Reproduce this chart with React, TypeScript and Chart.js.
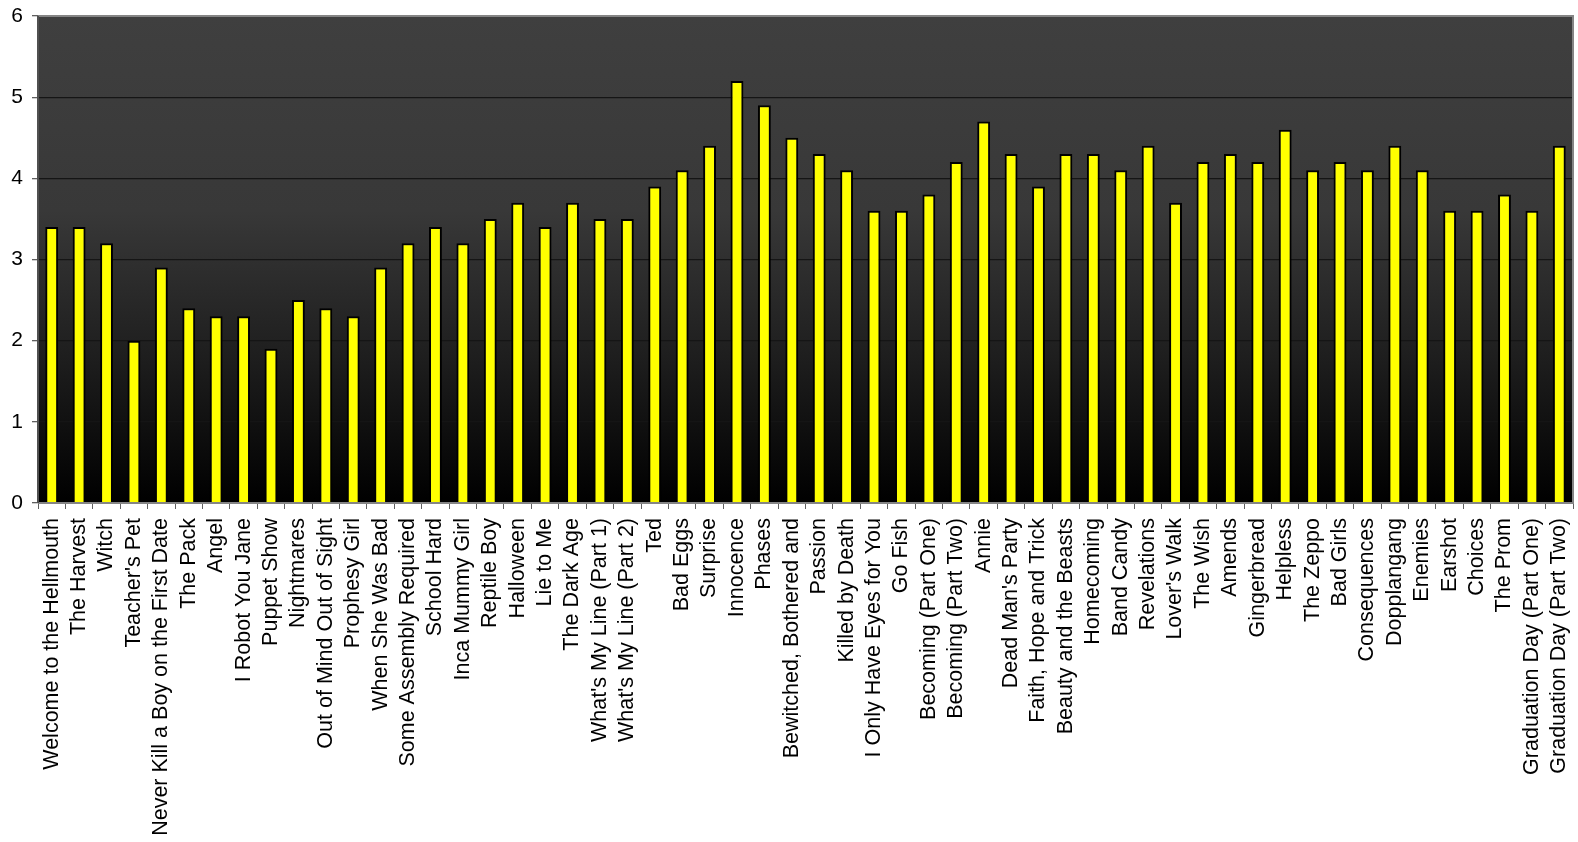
import React, { useEffect, useRef } from "react";
import { Chart, registerables } from "chart.js";

Chart.register(...registerables);

const episodes: string[] = [
  "Welcome to the Hellmouth", "The Harvest", "Witch", "Teacher's Pet",
  "Never Kill a Boy on the First Date", "The Pack", "Angel", "I Robot You Jane",
  "Puppet Show", "Nightmares", "Out of Mind Out of Sight", "Prophesy Girl",
  "When She Was Bad", "Some Assembly Required", "School Hard", "Inca Mummy Girl",
  "Reptile Boy", "Halloween", "Lie to Me", "The Dark Age",
  "What's My Line (Part 1)", "What's My Line (Part 2)", "Ted", "Bad Eggs",
  "Surprise", "Innocence", "Phases", "Bewitched, Bothered and",
  "Passion", "Killed by Death", "I Only Have Eyes for You", "Go Fish",
  "Becoming (Part One)", "Becoming (Part Two)", "Annie", "Dead Man's Party",
  "Faith, Hope and Trick", "Beauty and the Beasts", "Homecoming", "Band Candy",
  "Revelations", "Lover's Walk", "The Wish", "Amends",
  "Gingerbread", "Helpless", "The Zeppo", "Bad Girls",
  "Consequences", "Dopplangang", "Enemies", "Earshot",
  "Choices", "The Prom", "Graduation Day (Part One)", "Graduation Day (Part Two)",
];

const ratings: number[] = [
  3.4, 3.4, 3.2, 2.0, 2.9, 2.4, 2.3, 2.3, 1.9, 2.5, 2.4, 2.3,
  2.9, 3.2, 3.4, 3.2, 3.5, 3.7, 3.4, 3.7, 3.5, 3.5, 3.9, 4.1,
  4.4, 5.2, 4.9, 4.5, 4.3, 4.1, 3.6, 3.6, 3.8, 4.2,
  4.7, 4.3, 3.9, 4.3, 4.3, 4.1, 4.4, 3.7, 4.2, 4.3,
  4.2, 4.6, 4.1, 4.2, 4.1, 4.4, 4.1, 3.6, 3.6, 3.8, 3.6, 4.4,
];

const yTicks: number[] = [0, 1, 2, 3, 4, 5, 6];

const bgPlugin = {
  id: "bgPlugin",
  beforeDraw(chart: any) {
    const { ctx, chartArea: a } = chart;
    const g = ctx.createLinearGradient(0, a.top, 0, a.bottom);
    g.addColorStop(0, "#3f3f3f");
    g.addColorStop(0.4, "#383838");
    g.addColorStop(0.7, "#1e1e1e");
    g.addColorStop(1, "#000000");
    ctx.save();
    ctx.fillStyle = g;
    ctx.fillRect(a.left, a.top, a.right - a.left, a.bottom - a.top);
    ctx.restore();
  },
  afterDraw(chart: any) {
    const { ctx, chartArea: a } = chart;
    ctx.save();
    ctx.lineWidth = 2;
    ctx.strokeStyle = "#858585";
    ctx.beginPath();
    ctx.moveTo(a.left, a.top);
    ctx.lineTo(a.right, a.top);
    ctx.lineTo(a.right, a.bottom);
    ctx.lineTo(a.left, a.bottom);
    ctx.stroke();
    ctx.strokeStyle = "#505050";
    ctx.beginPath();
    ctx.moveTo(a.left, a.top);
    ctx.lineTo(a.left, a.bottom);
    ctx.stroke();
    ctx.restore();
  },
};

export default function App() {
  const ref = useRef<HTMLCanvasElement | null>(null);
  useEffect(() => {
    if (!ref.current) return;
    const chart = new Chart(ref.current, {
      type: "bar",
      data: {
        labels: episodes,
        datasets: [
          {
            data: ratings,
            backgroundColor: "#ffff00",
            borderColor: "#000000",
            borderWidth: 2,
            barPercentage: 0.47,
            categoryPercentage: 1,
          },
        ],
      },
      options: {
        animation: false,
        responsive: false,
        layout: { padding: { left: 0, right: 5, top: 16, bottom: 0 } },
        plugins: { legend: { display: false }, tooltip: { enabled: false } },
        scales: {
          x: {
            afterFit(scale: any) {
              scale.height = 339;
              scale.paddingLeft = 0;
              scale.paddingRight = 0;
            },
            grid: {
              offset: true,
              drawOnChartArea: false,
              drawTicks: true,
              tickLength: 6,
              color: "#606060",
            },
            border: { display: false },
            ticks: {
              autoSkip: false,
              maxRotation: 90,
              minRotation: 90,
              padding: 9,
              color: "#000000",
              font: { family: "'Liberation Sans', Arial, sans-serif", size: 21.5 },
            },
          },
          y: {
            min: 0,
            max: 6,
            afterFit(scale: any) {
              scale.width = 38;
            },
            afterBuildTicks(scale: any) {
              scale.ticks = yTicks.map((v) => ({ value: v }));
            },
            grid: {
              color: "#151515",
              lineWidth: 1.3,
              tickLength: 6,
              tickColor: "#606060",
            },
            border: { display: false },
            ticks: {
              padding: 9,
              color: "#000000",
              font: { family: "'Liberation Sans', Arial, sans-serif", size: 21, lineHeight: 0.5 },
            },
          },
        },
      },
      plugins: [bgPlugin],
    });
    return () => chart.destroy();
  }, []);
  return (
    <div style={{ position: "absolute", left: 0, top: 0, width: 1578, height: 842 }}>
      <canvas ref={ref} width={1578} height={842} style={{ display: "block" }} />
    </div>
  );
}
